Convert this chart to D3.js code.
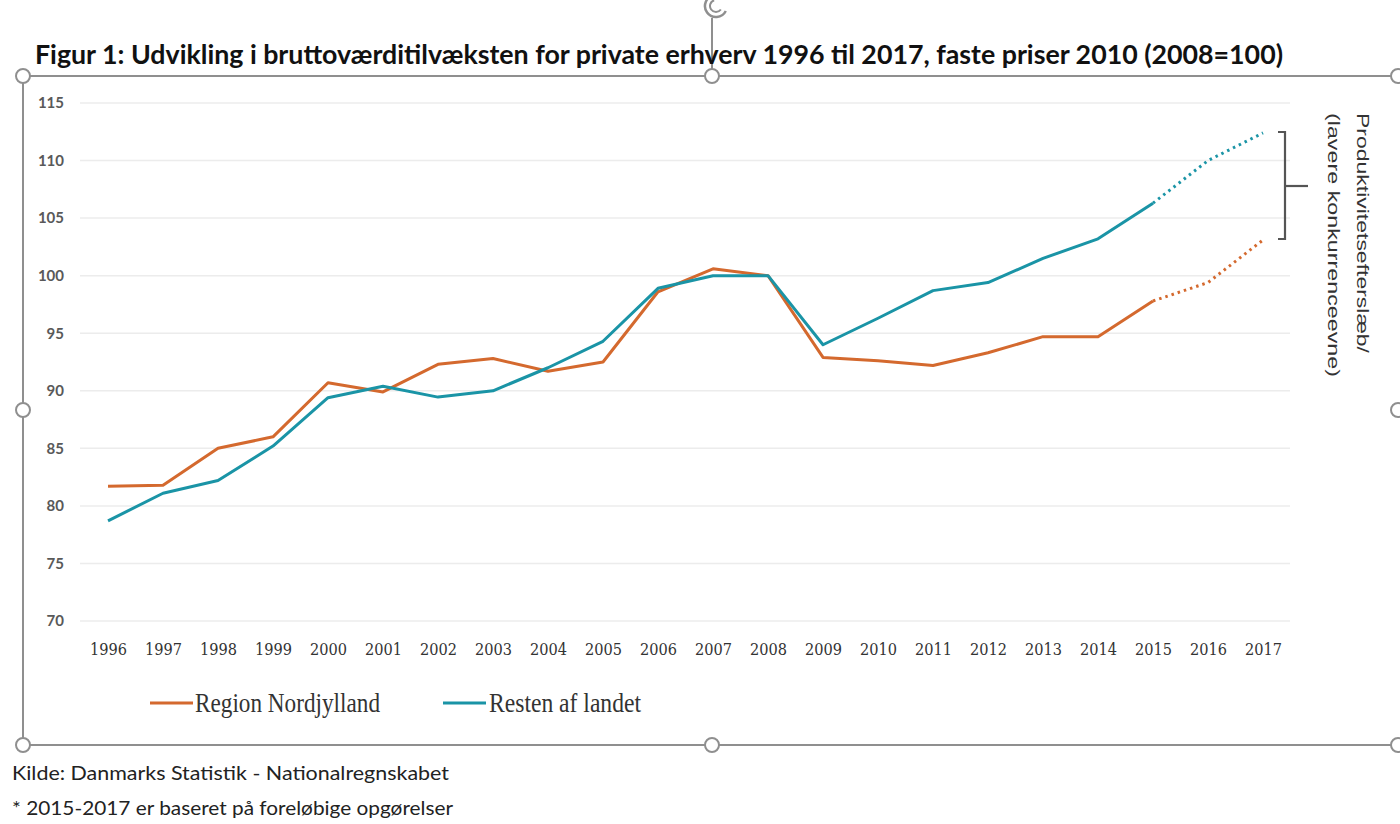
<!DOCTYPE html>
<html><head><meta charset="utf-8">
<script src="https://cdn.jsdelivr.net/npm/d3@7"></script>
<style>body{margin:0;background:#fff;}svg{display:block;}</style>
</head><body>
<script>
const years = [1996,1997,1998,1999,2000,2001,2002,2003,2004,2005,2006,2007,2008,2009,2010,2011,2012,2013,2014,2015,2016,2017];
const nordjylland = [81.7,81.8,85.0,86.0,90.7,89.9,92.3,92.8,91.7,92.5,98.6,100.6,100.0,92.9,92.6,92.2,93.3,94.7,94.7,97.8,99.4,103.1];
const resten = [78.7,81.1,82.2,85.2,89.4,90.4,89.45,90.0,92.0,94.3,98.9,100.0,100.0,94.0,96.3,98.7,99.4,101.5,103.2,106.3,110.0,112.4];
const yTicks = [70,75,80,85,90,95,100,105,110,115];
const seriesNames = ["Region Nordjylland","Resten af landet"];
const lastActualYear = 2015;

const W = 1400, H = 824;
const orange = "#D4692E", teal = "#1A94A6";
const svg = d3.select("body").append("svg").attr("width", W).attr("height", H);

const x = d3.scalePoint().domain(years).range([108, 1263]);
const y = d3.scaleLinear().domain([70, 115]).range([621, 103]);

// gridlines
svg.append("g").selectAll("line").data(yTicks).join("line")
  .attr("x1", 80).attr("x2", 1290)
  .attr("y1", d => y(d)).attr("y2", d => y(d))
  .attr("stroke", "#ececec").attr("stroke-width", 1.5);

// y axis labels
const yAxis = d3.axisLeft(y).tickValues(yTicks).tickSize(0).tickPadding(0);
const gy = svg.append("g").attr("transform", "translate(64,0)").call(yAxis);
gy.select(".domain").remove();
gy.selectAll("text").attr("font-family", "Lato, 'Open Sans', sans-serif")
  .attr("font-size", 15).attr("font-weight", "bold").attr("fill", "#595959");

// x axis labels
const xAxis = d3.axisBottom(x).tickSize(0).tickPadding(0);
const gx = svg.append("g").attr("transform", "translate(0,644)").call(xAxis);
gx.select(".domain").remove();
gx.selectAll("text").attr("font-family", "'DejaVu Serif', serif")
  .attr("font-size", 16).attr("fill", "#333").attr("dy", "0.71em")
  .attr("textLength", 37).attr("lengthAdjust", "spacingAndGlyphs");

// lines
const data = [
  {name: seriesNames[0], color: orange, values: nordjylland},
  {name: seriesNames[1], color: teal, values: resten}
];
const line = d3.line().x(d => x(d.year)).y(d => y(d.v));
data.forEach(s => {
  const pts = years.map((yr, i) => ({year: yr, v: s.values[i]}));
  const solid = pts.filter(p => p.year <= lastActualYear);
  const dotted = pts.filter(p => p.year >= lastActualYear);
  svg.append("path").datum(dotted).attr("d", line).attr("fill", "none")
    .attr("stroke", s.color).attr("stroke-width", 3).attr("stroke-dasharray", "2.5 4").attr("stroke-linecap", "butt");
  svg.append("path").datum(solid).attr("d", line).attr("fill", "none")
    .attr("stroke", s.color).attr("stroke-width", 3).attr("stroke-linejoin", "round");
});

// bracket
const bk = svg.append("g").attr("stroke", "#555").attr("stroke-width", 2.2).attr("fill", "none");
bk.append("path").attr("d", "M1278,132 H1285 V239 H1278");
bk.append("line").attr("x1", 1285).attr("x2", 1308).attr("y1", 186).attr("y2", 186);

// rotated annotation
const ann = svg.append("g").attr("font-family", "'Liberation Sans', Arial, sans-serif").attr("font-size", 17).attr("fill", "#333");
ann.append("text").attr("transform", "translate(1357,113) rotate(90)").text("Produktivitetsefterslæb/")
  .attr("textLength", 240).attr("lengthAdjust", "spacingAndGlyphs");
ann.append("text").attr("transform", "translate(1328,113) rotate(90)").text("(lavere konkurrenceevne)")
  .attr("textLength", 264).attr("lengthAdjust", "spacingAndGlyphs");

// legend
const lg = svg.append("g");
const legendPos = [{lx: 150, tx: 195, tl: 185}, {lx: 443, tx: 489, tl: 152}];
data.forEach((s, i) => {
  const p = legendPos[i];
  lg.append("line").attr("x1", p.lx).attr("x2", p.lx + 43).attr("y1", 703).attr("y2", 703)
    .attr("stroke", s.color).attr("stroke-width", 3);
  lg.append("text").attr("x", p.tx).attr("y", 712).text(s.name)
    .attr("font-family", "'Liberation Serif', serif").attr("font-size", 27).attr("fill", "#333")
    .attr("textLength", p.tl).attr("lengthAdjust", "spacingAndGlyphs");
});

// frame (selection box)
const fr = svg.append("g").attr("stroke", "#8f8f8f").attr("stroke-width", 2).attr("fill", "none");
fr.append("line").attr("x1", 23).attr("x2", 1400).attr("y1", 76).attr("y2", 76);
fr.append("line").attr("x1", 23).attr("x2", 1400).attr("y1", 745).attr("y2", 745);
fr.append("line").attr("x1", 23).attr("x2", 23).attr("y1", 76).attr("y2", 745);
fr.append("line").attr("x1", 712).attr("x2", 712).attr("y1", 18).attr("y2", 76);
// rotate handle
fr.append("path").attr("d", d3.arc()({innerRadius: 11, outerRadius: 11, startAngle: Math.PI*0.65, endAngle: Math.PI*1.95}))
  .attr("transform", "translate(716,6)").attr("stroke-width", 2.5);
fr.append("path").attr("d", d3.arc()({innerRadius: 6, outerRadius: 6, startAngle: Math.PI*0.7, endAngle: Math.PI*1.9}))
  .attr("transform", "translate(716,6)").attr("stroke-width", 2);
const handles = [[23,76],[712,76],[1398,76],[23,410],[1398,410],[23,745],[712,745],[1398,745]];
svg.append("g").selectAll("circle").data(handles).join("circle")
  .attr("cx", d => d[0]).attr("cy", d => d[1]).attr("r", 7)
  .attr("fill", "#fff").attr("stroke", "#8f8f8f").attr("stroke-width", 2);

// title
svg.append("text").attr("x", 35).attr("y", 64)
  .text("Figur 1: Udvikling i bruttoværditilvæksten for private erhverv 1996 til 2017, faste priser 2010 (2008=100)")
  .attr("font-family", "Lato, 'Open Sans', sans-serif").attr("font-weight", "bold").attr("font-size", 27)
  .attr("fill", "#111").attr("textLength", 1248).attr("lengthAdjust", "spacingAndGlyphs");

// footer
svg.append("text").attr("x", 12).attr("y", 780).text("Kilde: Danmarks Statistik - Nationalregnskabet")
  .attr("font-family", "Lato, 'Open Sans', sans-serif").attr("font-size", 20).attr("fill", "#222")
  .attr("textLength", 437).attr("lengthAdjust", "spacingAndGlyphs");
svg.append("text").attr("x", 12).attr("y", 815).text("* 2015-2017 er baseret på foreløbige opgørelser")
  .attr("font-family", "Lato, 'Open Sans', sans-serif").attr("font-size", 20).attr("fill", "#222")
  .attr("textLength", 441).attr("lengthAdjust", "spacingAndGlyphs");
</script>
</body></html>
